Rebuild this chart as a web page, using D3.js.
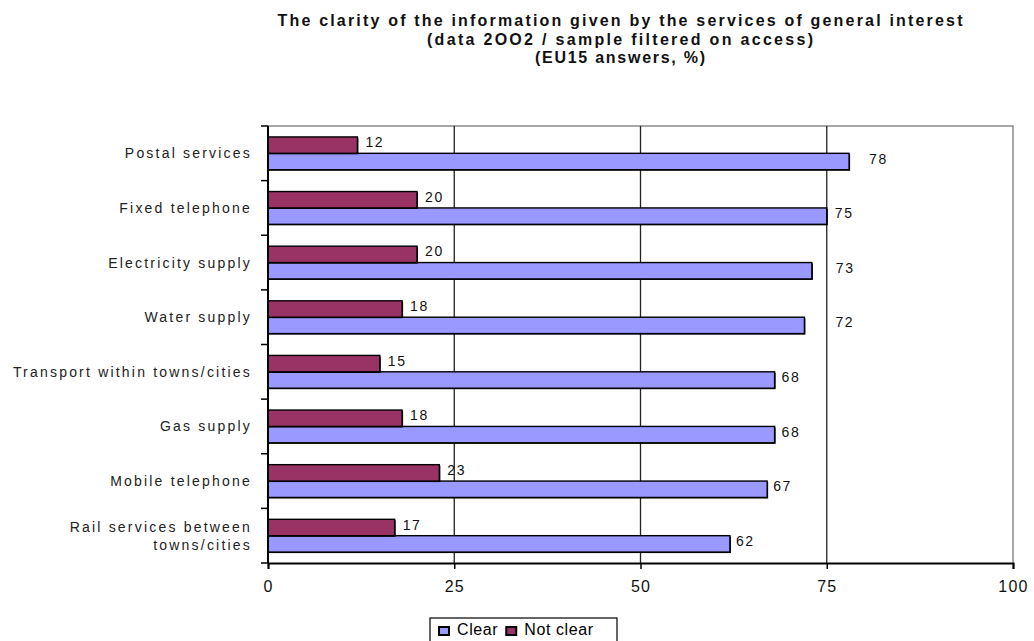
<!DOCTYPE html>
<html>
<head>
<meta charset="utf-8">
<script src="https://cdn.jsdelivr.net/npm/d3@7"></script>
<style>
  body { margin: 0; background: #fff; }
  svg { display: block; font-family: "Liberation Sans", Arial, sans-serif; }
</style>
</head>
<body>
<svg id="chart" width="1034" height="641"></svg>
<script>
// Services, top to bottom
const categories = [
  "Postal services",
  "Fixed telephone",
  "Electricity supply",
  "Water supply",
  "Transport within towns/cities",
  "Gas supply",
  "Mobile telephone",
  "Rail services between towns/cities"
];
const clearValues    = [78, 75, 73, 72, 68, 68, 67, 62];
const notClearValues = [12, 20, 20, 18, 15, 18, 23, 17];
const seriesNames = ["Clear", "Not clear"];
const xTicks = [0, 25, 50, 75, 100];
const titleLines = [
  "The clarity of the information given by the services of general interest",
  "(data 2OO2 / sample filtered on access)",
  "(EU15 answers, %)"
];

const colors = { "Clear": "#9999ff", "Not clear": "#993366" };

const svg = d3.select("#chart");
const margin = { left: 268, right: 21, top: 126, bottom: 78 };
const W = 1034, H = 641;
const innerW = W - margin.left - margin.right;
const innerH = H - margin.top - margin.bottom;

const x = d3.scaleLinear().domain([0, 100]).range([0, innerW]);
const y = d3.scaleBand().domain(categories).range([0, innerH]).paddingInner(0.4).paddingOuter(0.2);
const sub = d3.scaleBand().domain(["Not clear", "Clear"]).range([0, y.bandwidth()]);

// Title: three centred bold lines, widely tracked
const titleWidths = [685, 386, 170];
svg.append("g").selectAll("text").data(titleLines).join("text")
  .attr("x", 620).attr("y", (d, i) => 26 + i * 18.5)
  .attr("text-anchor", "middle")
  .attr("font-size", 16).attr("font-weight", "bold").attr("fill", "#111")
  .attr("textLength", (d, i) => titleWidths[i])
  .attr("lengthAdjust", "spacing")
  .text(d => d);

const g = svg.append("g").attr("transform", `translate(${margin.left},${margin.top})`);

// Plot frame (grey top/right)
g.append("path")
  .attr("d", `M0,0H${innerW}V${innerH}`)
  .attr("fill", "none").attr("stroke", "#8a8a8a").attr("stroke-width", 1.5);

// Vertical gridlines
g.append("g").selectAll("line").data(xTicks.slice(1, -1)).join("line")
  .attr("x1", d => x(d)).attr("x2", d => x(d))
  .attr("y1", 0).attr("y2", innerH)
  .attr("stroke", "#222").attr("stroke-width", 1.3);

// Bars
const rows = categories.map((c, i) => ({ cat: c, i, "Clear": clearValues[i], "Not clear": notClearValues[i] }));
const groups = g.append("g").selectAll("g").data(rows).join("g")
  .attr("transform", d => `translate(0,${y(d.cat)})`);

seriesNames.forEach(s => {
  // dark drop edge on the right/bottom of each bar
  groups.append("rect")
    .attr("x", 1).attr("y", sub(s) + 1)
    .attr("width", d => x(d[s]))
    .attr("height", sub.bandwidth())
    .attr("fill", "#000");
  groups.append("rect")
    .attr("x", 0)
    .attr("y", sub(s))
    .attr("width", d => x(d[s]))
    .attr("height", sub.bandwidth())
    .attr("fill", colors[s])
    .attr("stroke", "#000").attr("stroke-width", 1.4);
});

// Value labels; a few of the "Clear" labels sit further out
const clearLabelGap = [20, 8, 24, 31, 7, 7, 6, 6];
groups.append("text")
  .attr("x", d => x(d["Not clear"]) + 8)
  .attr("y", sub("Not clear") + sub.bandwidth() / 2 + 2)
  .attr("font-size", 14).attr("letter-spacing", 1.6).attr("fill", "#111")
  .text(d => d["Not clear"]);
groups.append("text")
  .attr("x", d => x(d["Clear"]) + clearLabelGap[d.i])
  .attr("y", sub("Clear") + sub.bandwidth() / 2 + 2)
  .attr("font-size", 14).attr("letter-spacing", 1.6).attr("fill", "#111")
  .text(d => d["Clear"]);

// Y axis: ticks between categories
const yAxis = g.append("g");
yAxis.append("line").attr("x1", 0).attr("x2", 0).attr("y1", 0).attr("y2", innerH)
  .attr("stroke", "#000").attr("stroke-width", 2);
const boundaries = d3.range(categories.length + 1).map(i => i * innerH / categories.length);
yAxis.selectAll("line.tk").data(boundaries).join("line").attr("class", "tk")
  .attr("x1", -7).attr("x2", 0).attr("y1", d => d).attr("y2", d => d)
  .attr("stroke", "#000").attr("stroke-width", 1.5);

// Category labels
const labelG = g.append("g");
categories.forEach((c) => {
  const cy = y(c) + y.bandwidth() / 2;
  const lines = c === "Rail services between towns/cities" ? ["Rail services between", "towns/cities"] : [c];
  const t = labelG.append("text")
    .attr("text-anchor", "end")
    .attr("font-size", 14).attr("letter-spacing", 2.2).attr("fill", "#222");
  lines.forEach((ln, j) => {
    t.append("tspan").attr("x", -16)
      .attr("y", cy + 5 + (j - (lines.length - 1) / 2) * 18)
      .text(ln);
  });
});

// X axis
const xAxis = g.append("g").attr("transform", `translate(0,${innerH})`)
  .call(d3.axisBottom(x).tickValues(xTicks).tickSize(6).tickPadding(12));
xAxis.select(".domain").attr("stroke", "#000").attr("stroke-width", 2);
xAxis.selectAll(".tick line").attr("stroke", "#000").attr("stroke-width", 1.5);
xAxis.selectAll("text").attr("font-size", 16).attr("fill", "#111")
  .attr("letter-spacing", 1.2)
  .attr("font-family", "\"Liberation Sans\", Arial, sans-serif");

// Legend
const legend = svg.append("g").attr("transform", "translate(430,618)");
legend.append("rect").attr("x", 0).attr("y", 0).attr("width", 187).attr("height", 30)
  .attr("fill", "#fff").attr("stroke", "#000").attr("stroke-width", 1.2);
let lx = 9;
seriesNames.forEach(s => {
  legend.append("rect").attr("x", lx).attr("y", 9).attr("width", 10).attr("height", 8)
    .attr("fill", colors[s]).attr("stroke", "#000").attr("stroke-width", 2);
  const t = legend.append("text").attr("x", lx + 18).attr("y", 17)
    .attr("font-size", 16).attr("letter-spacing", 0.6).text(s);
  lx += 18 + t.node().getComputedTextLength() + 8;
});
</script>
</body>
</html>
